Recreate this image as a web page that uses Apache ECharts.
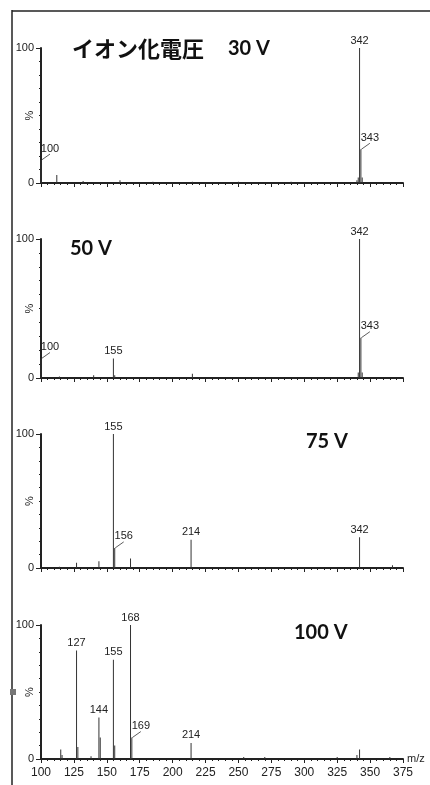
<!DOCTYPE html>
<html>
<head>
<meta charset="utf-8">
<script src="https://cdn.jsdelivr.net/npm/echarts@6/dist/echarts.min.js"></script>
<style>
  html, body { margin: 0; padding: 0; background: #fff; }
  #chart { width: 430px; height: 785px; }
</style>
</head>
<body>
<div id="chart"></div>
<script>
// Title and ionisation voltages of the four spectra
const titleJa = 'イオン化電圧';
const voltages = ['30 V', '50 V', '75 V', '100 V'];

// m/z axis range and tick step
const mzMin = 100;
const mzMax = 375;
const mzStep = 25;

// 30 V spectrum
const mz30 = [100, 112, 132, 160, 185, 215, 250, 290, 340, 341, 342, 343, 344];
const ab30 = [17, 6, 1.5, 2, 1, 1, 1, 1, 2, 4, 100, 25, 4];
const top30 = [342];
const side30 = [343, 100];

// 50 V spectrum
const mz50 = [100, 114, 140, 155, 156, 215, 341, 342, 343, 344];
const ab50 = [14, 1, 2, 14, 2, 3, 4, 100, 29, 4];
const top50 = [342, 155];
const side50 = [343, 100];

// 75 V spectrum
const mz75 = [114, 127, 144, 155, 156, 168, 214, 342, 367];
const ab75 = [1, 4, 5, 100, 15, 7, 21, 23, 2];
const top75 = [155, 214, 342];
const side75 = [156];

// 100 V spectrum
const mz100 = [115, 116, 127, 128, 138, 144, 145, 155, 156, 168, 169, 214, 254, 270, 325, 340, 342, 365];
const ab100 = [7, 3, 81, 9, 2, 31, 16, 74, 10, 100, 16, 12, 1.5, 1.5, 1.5, 3, 7, 1.5];
const top100 = [127, 144, 155, 168, 214];
const side100 = [169];

const spectra = [
  { mz: mz30, ab: ab30, top: top30, side: side30 },
  { mz: mz50, ab: ab50, top: top50, side: side50 },
  { mz: mz75, ab: ab75, top: top75, side: side75 },
  { mz: mz100, ab: ab100, top: top100, side: side100 }
];

// Panel placement (plot area of each spectrum)
const panels = [
  { top: 48, height: 135 },
  { top: 239, height: 139 },
  { top: 434, height: 134 },
  { top: 625, height: 134 }
];

const ink = '#222';
const labelFont = { fontFamily: 'Liberation Sans', fontSize: 11, color: '#222' };

const grids = panels.map(p => ({
  left: 41, right: 27, top: p.top, height: p.height,
  outerBoundsMode: 'none', containLabel: false
}));

const xAxes = panels.map((p, i) => {
  const last = i === panels.length - 1;
  return {
    type: 'value', gridIndex: i, min: mzMin, max: mzMax, interval: mzStep,
    splitLine: { show: false },
    axisLine: { lineStyle: { color: ink, width: 2 } },
    axisTick: { show: true, length: 4, lineStyle: { color: ink, width: 1 } },
    minorTick: { show: true, splitNumber: 5, length: 2, lineStyle: { color: ink, width: 1 } },
    axisLabel: { show: last, margin: 8, fontFamily: 'Liberation Sans', fontSize: 12, color: '#222' },
    name: last ? 'm/z' : '',
    nameLocation: 'end', nameGap: 4, nameMoveOverlap: false,
    nameTextStyle: { fontFamily: 'Liberation Sans', fontSize: 11, color: '#222', padding: [14, 0, 0, 0] }
  };
});

const yAxes = panels.map((p, i) => ({
  type: 'value', gridIndex: i, min: 0, max: 100, interval: 100,
  splitLine: { show: false },
  axisLine: { show: true, lineStyle: { color: ink, width: 2 } },
  axisTick: { show: true, length: 5, lineStyle: { color: ink, width: 1 } },
  minorTick: { show: true, splitNumber: 10, length: 2, lineStyle: { color: ink, width: 1 } },
  axisLabel: { margin: 7, ...labelFont },
  name: '%', nameLocation: 'middle', nameRotate: 90, nameGap: 6, nameMoveOverlap: false,
  nameTextStyle: { ...labelFont }
}));

const series = spectra.map((s, i) => ({
  type: 'bar', xAxisIndex: i, yAxisIndex: i,
  barWidth: 1, silent: true, animation: false,
  itemStyle: { color: '#333' },
  label: { show: false, ...labelFont },
  labelLine: { show: false, lineStyle: { color: '#333', width: 0.8 } },
  labelLayout: function (params) {
    const m = s.mz[params.dataIndex];
    return s.side.includes(m) ? { dx: 9, dy: -2 } : {};
  },
  data: s.mz.map((m, k) => {
    const item = { value: [m, s.ab[k]] };
    if (s.top.includes(m)) {
      item.label = { show: true, position: 'top', distance: 2, formatter: String(m) };
    } else if (s.side.includes(m)) {
      item.label = { show: true, position: 'top', distance: 4, formatter: String(m) };
      item.labelLine = { show: true };
    }
    return item;
  })
}));

// Voltage captions inside each panel
const captionPos = [
  { x: 228, y: 49 }, { x: 70, y: 249 }, { x: 306, y: 442 }, { x: 294, y: 633 }
];
const captionFont = 'bold 20px Lato';

const graphic = [
  { type: 'line', shape: { x1: 12, y1: 10, x2: 12, y2: 785 }, style: { stroke: ink, lineWidth: 1.5 } },
  { type: 'line', shape: { x1: 12, y1: 11, x2: 430, y2: 11 }, style: { stroke: ink, lineWidth: 1.5 } },
  { type: 'rect', shape: { x: 10, y: 689, width: 6, height: 6 }, style: { fill: '#777' } },
  { type: 'text', x: 72, y: 49, style: { text: titleJa, font: 'bold 22px "Noto Sans CJK JP"', fill: '#111', verticalAlign: 'middle' } }
].concat(voltages.map((v, i) => ({
  type: 'text', x: captionPos[i].x, y: captionPos[i].y,
  style: { text: v, font: captionFont, fill: '#111', verticalAlign: 'middle' }
})));

const chart = echarts.init(document.getElementById('chart'), null, { renderer: 'canvas' });
chart.setOption({
  backgroundColor: '#fff',
  animation: false,
  grid: grids,
  xAxis: xAxes,
  yAxis: yAxes,
  series: series,
  graphic: graphic
});
</script>
</body>
</html>
